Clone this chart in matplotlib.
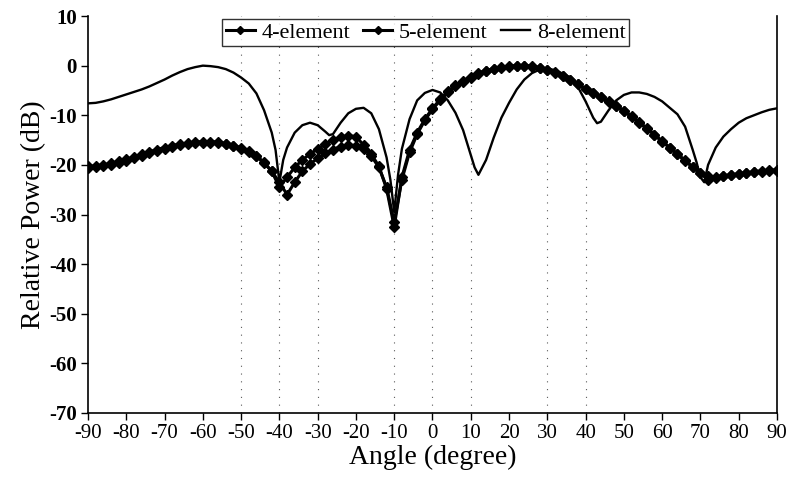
import numpy as np
import matplotlib
matplotlib.use("Agg")
from matplotlib import pyplot as plt

plt.rcParams['font.family'] = ['Liberation Serif', 'DejaVu Serif']
plt.rcParams['axes.unicode_minus'] = False

# angles for the 4- and 5-element patterns (every 2 degrees)
angles = list(range(-90, 91, 2))

power_4 = [
    -20.3, -20.2, -20.0, -19.7, -19.3, -18.9, -18.4, -17.9, -17.4, -16.9,
    -16.5, -16.1, -15.8, -15.6, -15.4, -15.3, -15.3, -15.4, -15.7, -16.1,
    -16.6, -17.3, -18.2, -19.5, -21.3, -24.5, -22.5, -20.5, -19.0, -17.8,
    -16.8, -15.8, -15.0, -14.4, -14.1, -14.3, -16.0, -17.8, -20.3, -24.8,
    -32.5, -22.5, -17.0, -13.5, -10.8, -8.6, -6.8, -5.2, -4.0, -3.0,
    -2.2, -1.5, -1.0, -0.6, -0.3, -0.1, 0.0, 0.0, -0.1, -0.4,
    -0.8, -1.3, -2.0, -2.8, -3.7, -4.7, -5.5, -6.3, -7.2, -8.1,
    -9.1, -10.2, -11.4, -12.6, -13.9, -15.2, -16.5, -17.8, -19.1, -20.4,
    -21.7, -23.0, -22.6, -22.2, -22.0, -21.8, -21.6, -21.4, -21.2, -21.1,
    -21.0,
]

power_5 = [
    -20.6, -20.5, -20.3, -20.0, -19.6, -19.2, -18.7, -18.2, -17.7, -17.2,
    -16.8, -16.4, -16.0, -15.8, -15.6, -15.5, -15.5, -15.6, -15.8, -16.2,
    -16.7, -17.4, -18.3, -19.6, -21.3, -23.5, -26.0, -23.5, -21.3, -19.8,
    -18.7, -17.7, -16.9, -16.3, -16.0, -16.1, -16.8, -18.2, -20.5, -24.5,
    -31.5, -23.0, -17.5, -13.8, -11.0, -8.8, -7.0, -5.4, -4.2, -3.2,
    -2.4, -1.7, -1.1, -0.7, -0.4, -0.2, -0.1, -0.1, -0.2, -0.5,
    -0.9, -1.4, -2.1, -2.9, -3.8, -4.8, -5.6, -6.4, -7.3, -8.2,
    -9.2, -10.3, -11.5, -12.7, -14.0, -15.3, -16.6, -17.9, -19.2, -20.5,
    -21.7, -22.3, -22.4, -22.3, -22.1, -21.9, -21.7, -21.5, -21.4, -21.3,
    -21.2,
]

# 8-element pattern, denser around the nulls
angles_8 = [
    -90, -88, -86, -84, -82, -80, -78, -76, -74, -72, -70, -68, -66, -64,
    -62, -60, -58, -56, -54, -52, -50, -48, -46,
    -44, -42, -41, -40, -39, -38, -36, -34, -32, -30, -28, -27, -26, -24,
    -22, -20, -18, -16, -14, -12, -11, -10, -9, -8, -6, -4, -2, 0, 2, 4,
    6, 8, 10, 11, 12, 13, 14, 16, 18, 20, 22, 24, 26, 28, 30, 32, 34, 36,
    38, 40, 42, 43, 44, 46, 48, 50, 52, 54, 56, 58, 60, 62, 64, 66, 68,
    69, 70, 71, 72, 74, 76, 78, 80, 82, 84, 86, 88, 90,
]
power_8 = [
    -7.6, -7.5, -7.2, -6.8, -6.3, -5.8, -5.3, -4.8, -4.2, -3.5, -2.8, -2.0, -1.3, -0.7,
    -0.3, 0.0, -0.1, -0.3, -0.7, -1.4, -2.4, -3.6, -5.6,
    -9.0, -13.5, -17.0, -23.5, -19.0, -16.5, -13.5, -12.0, -11.5, -12.0, -13.3, -14.0, -13.8, -11.5,
    -9.6, -8.7, -8.5, -9.6, -12.8, -18.5, -23.0, -29.5, -22.0, -16.8, -10.8, -7.0, -5.5, -4.9, -5.4, -7.0,
    -9.5, -13.0, -18.0, -20.5, -22.0, -20.5, -19.0, -14.5, -10.5, -7.5, -4.8, -2.8, -1.5, -0.8, -0.6, -0.9, -1.6, -2.4,
    -4.3, -7.2, -10.5, -11.6, -11.3, -9.0, -7.0, -5.9, -5.4, -5.4, -5.7, -6.3, -7.2, -8.5, -9.8, -12.3, -17.0,
    -19.5, -22.5, -23.5, -20.0, -16.5, -14.3, -12.8, -11.5, -10.6, -10.0, -9.4, -8.9, -8.6,
]

x_ticks = list(range(-90, 91, 10))
y_ticks = list(range(-70, 11, 10))
dotted_angles = [-50, -40, -30, -10, 0, 10, 30, 40]

fig = plt.figure(figsize=(7.88, 4.93), dpi=100)
ax = fig.add_axes([0.1117, 0.1623, 0.8743, 0.8052])

for a in dotted_angles:
    ax.axvline(a, color='0.35', lw=0.8, ls=(0, (1, 6)), zorder=0)

ax.plot(angles, power_4, color='black', lw=2.2, marker='D', ms=5.5,
        label='4-element')
ax.plot(angles, power_5, color='black', lw=2.2, marker='D', ms=5,
        label='5-element')
ax.plot(angles_8, power_8, color='black', lw=1.7, label='8-element')

ax.set_xlim(-90, 90)
ax.set_ylim(-70, 10)
ax.set_xticks(x_ticks)
ax.set_yticks(y_ticks)
ax.tick_params(direction='out', length=5, width=1, labelsize=15, pad=3)
for lbl in ax.get_yticklabels():
    lbl.set_fontweight('bold')
ax.spines['top'].set_visible(False)
for s in ['left', 'bottom', 'right']:
    ax.spines[s].set_linewidth(1.2)

ax.set_xlabel('Angle (degree)', fontsize=20, labelpad=1)
ax.set_ylabel('Relative Power (dB)', fontsize=20, labelpad=2)

leg = ax.legend(loc='center', bbox_to_anchor=(0.49, 0.958), ncol=3,
                fontsize=16, frameon=True, fancybox=False, handlelength=1.3,
                handletextpad=0.3, columnspacing=0.6, borderpad=0.15,
                borderaxespad=0, markerscale=0.8)
leg.get_frame().set_edgecolor('black')
leg.get_frame().set_linewidth(1.0)

fig.savefig('out.png', dpi=100)
